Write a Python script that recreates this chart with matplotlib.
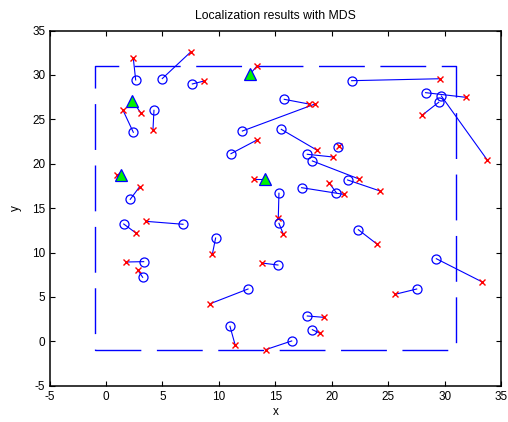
import matplotlib
matplotlib.use('Agg')
import matplotlib.pyplot as plt

# estimated positions (blue circles) of the unknown nodes
est_x = [2.63, 4.99, 7.65, 2.42, 4.25, 2.15, 1.57, 6.82, 9.71, 3.34, 3.25, 12.58,
         10.98, 16.45, 17.83, 18.28, 15.23, 15.32, 15.32, 17.33, 20.40, 21.40,
         22.35, 29.26, 27.52, 11.07, 12.08, 15.79, 15.53, 17.83, 18.28, 20.58,
         21.76, 28.31, 29.70, 29.47]
est_y = [29.44, 29.60, 28.99, 23.55, 26.02, 16.00, 13.22, 13.19, 11.64, 8.98, 7.22, 5.90,
         1.70, 0.05, 2.86, 1.32, 8.60, 13.30, 16.68, 17.31, 16.75, 18.18,
         12.58, 9.31, 5.90, 21.14, 23.69, 27.26, 23.88, 21.07, 20.32, 21.89,
         29.36, 28.01, 27.64, 26.93]
# true positions (red crosses) of the same nodes
true_x = [2.42, 7.50, 8.68, 1.51, 4.16, 2.98, 2.69, 3.54, 9.42, 1.77, 2.83, 9.24,
          11.45, 14.14, 19.28, 18.95, 13.79, 15.70, 15.26, 21.05, 19.75, 24.27,
          24.03, 33.33, 25.60, 13.37, 18.51, 17.98, 18.66, 20.08, 22.41, 20.67,
          29.61, 31.86, 33.77, 27.99]
true_y = [31.88, 32.59, 29.32, 26.02, 23.80, 17.42, 12.17, 13.52, 9.81, 8.94, 8.00, 4.25,
          -0.44, -0.93, 2.71, 0.91, 8.83, 12.09, 13.86, 16.56, 17.87, 16.94,
          10.93, 6.69, 5.30, 22.68, 26.73, 26.73, 21.55, 20.77, 18.29, 22.00,
          29.58, 27.49, 20.43, 25.46]

# anchors (green triangles) and their true positions
anc_x = [2.33, 12.75, 1.30, 14.11]
anc_y = [27.10, 30.08, 18.74, 18.32]
anc_true_x = [3.07, 13.37, 1.00, 13.11]
anc_true_y = [25.76, 31.01, 18.77, 18.32]

# deployment area
area_x = [-1, 31, 31, -1, -1]
area_y = [-1, -1, 31, 31, -1]

plt.rcParams['font.family'] = ['Liberation Sans', 'DejaVu Sans']
plt.rcParams['lines.scale_dashes'] = False
plt.rcParams['axes.unicode_minus'] = False

fig = plt.figure(figsize=(5.08, 4.22), dpi=100)
ax = fig.add_axes([0.0975, 0.0858, 0.889, 0.8417])

ax.plot(area_x, area_y, color='b', linewidth=1.0, dashes=(33, 11.2))

for i in range(len(est_x)):
    ax.plot([est_x[i], true_x[i]], [est_y[i], true_y[i]], 'b-', linewidth=0.8)
for i in range(len(anc_x)):
    ax.plot([anc_x[i], anc_true_x[i]], [anc_y[i], anc_true_y[i]], 'b-', linewidth=0.8)

ax.plot(true_x, true_y, 'rx', markersize=4, markeredgewidth=1.0)
ax.plot(anc_true_x, anc_true_y, 'rx', markersize=4, markeredgewidth=1.0)
ax.plot(est_x, est_y, 'o', markerfacecolor='none', markeredgecolor='b',
        markersize=6.5, markeredgewidth=0.9)
ax.plot(anc_x, anc_y, '^', markerfacecolor=(0, 0.95, 0), markeredgecolor='b',
        markersize=8, markeredgewidth=0.9)

ax.set_xlim(-5, 35)
ax.set_ylim(-5, 35)
ax.set_xticks(range(-5, 36, 5))
ax.set_yticks(range(-5, 36, 5))
ax.tick_params(direction='in', top=True, right=True, length=3.5, width=0.8,
               labelsize=8.5)
ax.tick_params(axis='x', pad=4)
ax.tick_params(axis='y', pad=3)
for s in ax.spines.values():
    s.set_linewidth(1.1)

ax.set_title('Localization results with MDS', fontsize=8.8, pad=8)
ax.set_xlabel('x', fontsize=8.5, labelpad=2)
ax.set_ylabel('y', fontsize=8.5, labelpad=7)

fig.savefig('out.png', dpi=100)
